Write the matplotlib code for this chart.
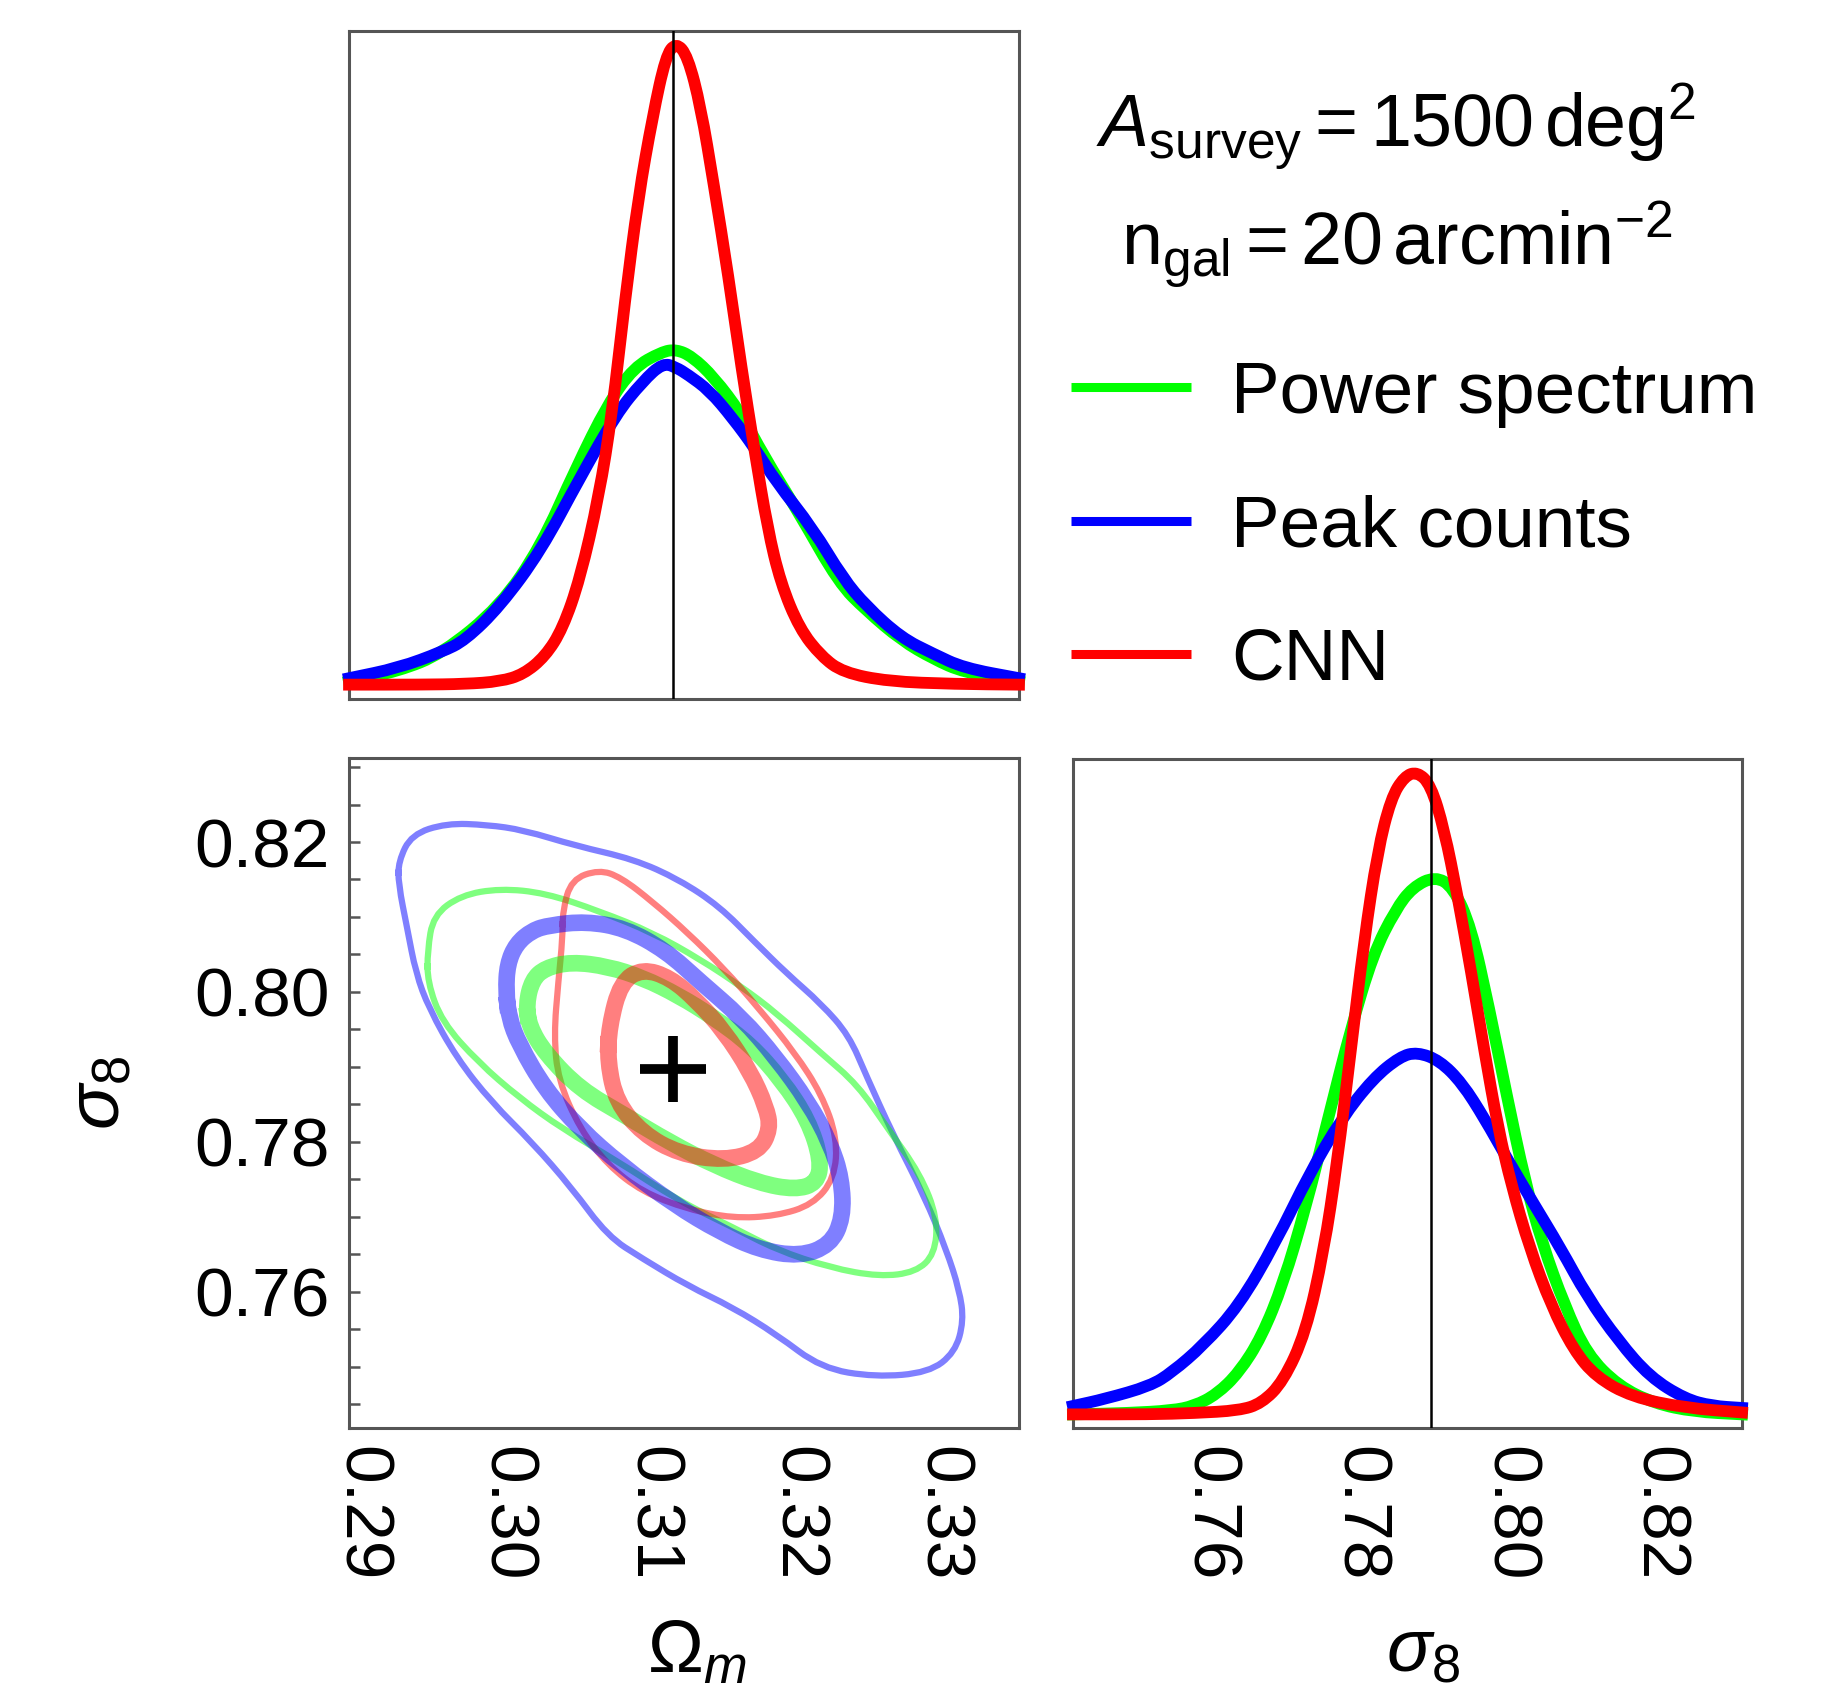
import matplotlib
matplotlib.use("Agg")
import matplotlib.pyplot as plt
import numpy as np
from matplotlib.lines import Line2D
from matplotlib.path import Path
from matplotlib.patches import PathPatch

plt.rcParams['font.family'] = ['Liberation Sans', 'DejaVu Sans']
plt.rcParams['mathtext.fontset'] = 'custom'
plt.rcParams['mathtext.rm'] = 'Liberation Sans'
plt.rcParams['mathtext.it'] = 'Liberation Sans:italic'
plt.rcParams['mathtext.bf'] = 'Liberation Sans:bold'

# fiducial cosmology
om_fid = 0.3115
s8_fid = 0.7897

om_lim = (0.2892, 0.3353)
s8_lim = (0.7418, 0.8312)
pdf_lim = (-0.0202, 1.0177)

labels = ['Power spectrum', 'Peak counts', 'CNN']
colors = ['#00ff00', '#0000ff', '#ff0000']

om_ticks = [0.29, 0.30, 0.31, 0.32, 0.33]
om_ticklabels = ['0.29', '0.30', '0.31', '0.32', '0.33']
s8_ticks = [0.76, 0.78, 0.80, 0.82]
s8_ticklabels = ['0.76', '0.78', '0.80', '0.82']

# marginal posterior of Omega_m (CNN peak = 1)
om_ps = [0.2892, 0.2926, 0.2956, 0.2996, 0.3024, 0.3048, 0.3070, 0.3088, 0.3107, 0.3117, 0.3128,
         0.3143, 0.3162, 0.3177, 0.3202, 0.3229, 0.3248, 0.3272, 0.3294, 0.3315, 0.3353]
p_om_ps = [0.007, 0.023, 0.050, 0.124, 0.217, 0.338, 0.438, 0.495, 0.519, 0.523, 0.512,
           0.480, 0.423, 0.359, 0.267, 0.160, 0.117, 0.071, 0.042, 0.021, 0.007]
om_pk = [0.2892, 0.2926, 0.2956, 0.2972, 0.2996, 0.3024, 0.3051, 0.3076, 0.3094, 0.3108, 0.3117, 0.3125,
         0.3140, 0.3156, 0.3171, 0.3186, 0.3211, 0.3232, 0.3248, 0.3272, 0.3294, 0.3315, 0.3353]
p_om_pk = [0.012, 0.028, 0.053, 0.071, 0.124, 0.210, 0.324, 0.423, 0.473, 0.502, 0.495, 0.484,
           0.459, 0.416, 0.370, 0.317, 0.245, 0.167, 0.124, 0.075, 0.050, 0.028, 0.012]
om_cnn = [0.2892, 0.2941, 0.2972, 0.2996, 0.3012, 0.3027, 0.3039, 0.3051, 0.3064, 0.3073, 0.3082,
          0.3091, 0.3101, 0.3110, 0.3117, 0.3125, 0.3134, 0.3143, 0.3153, 0.3162, 0.3171, 0.3180,
          0.3189, 0.3202, 0.3217, 0.3232, 0.3263, 0.3309, 0.3353]
p_om_cnn = [0.002, 0.002, 0.003, 0.007, 0.018, 0.046, 0.089, 0.167, 0.295, 0.423, 0.601,
            0.758, 0.886, 0.979, 1.000, 0.979, 0.900, 0.779, 0.637, 0.495, 0.366, 0.245,
            0.160, 0.089, 0.046, 0.021, 0.007, 0.003, 0.002]

# marginal posterior of sigma_8
s8_ps = [0.7418, 0.7491, 0.7550, 0.7580, 0.7610, 0.7640, 0.7670, 0.7699, 0.7729, 0.7759, 0.7789,
         0.7819, 0.7849, 0.7872, 0.7902, 0.7926, 0.7950, 0.7974, 0.7998, 0.8022, 0.8045, 0.8075,
         0.8105, 0.8147, 0.8195, 0.8248, 0.8312]
p_s8_ps = [0.001, 0.003, 0.007, 0.014, 0.032, 0.066, 0.121, 0.204, 0.322, 0.460, 0.598,
           0.715, 0.784, 0.819, 0.836, 0.819, 0.757, 0.632, 0.494, 0.363, 0.266, 0.170,
           0.094, 0.045, 0.018, 0.005, 0.001]
s8_pk = [0.7418, 0.7461, 0.7521, 0.7550, 0.7592, 0.7640, 0.7688, 0.7735, 0.7777, 0.7819, 0.7855, 0.7878,
         0.7908, 0.7938, 0.7968, 0.7998, 0.8033, 0.8069, 0.8105, 0.8147, 0.8189, 0.8236, 0.8272, 0.8312]
p_s8_pk = [0.014, 0.025, 0.045, 0.066, 0.108, 0.170, 0.266, 0.377, 0.460, 0.522, 0.556, 0.563,
           0.550, 0.515, 0.460, 0.398, 0.329, 0.260, 0.184, 0.115, 0.059, 0.025, 0.014, 0.011]
s8_cnn = [0.7418, 0.7521, 0.7580, 0.7640, 0.7670, 0.7699, 0.7729, 0.7753, 0.7771, 0.7789, 0.7807,
          0.7825, 0.7843, 0.7861, 0.7878, 0.7896, 0.7914, 0.7932, 0.7950, 0.7968, 0.7986, 0.8004,
          0.8028, 0.8057, 0.8087, 0.8117, 0.8165, 0.8236, 0.8312]
p_s8_cnn = [0.001, 0.001, 0.003, 0.007, 0.018, 0.052, 0.128, 0.253, 0.391, 0.563, 0.736,
            0.874, 0.957, 0.991, 0.998, 0.978, 0.909, 0.805, 0.688, 0.563, 0.446, 0.356,
            0.260, 0.170, 0.101, 0.059, 0.028, 0.011, 0.004]

# 2D contours (inner = thick, outer = thin)
ps_in_om = [0.3014, 0.3018, 0.3027, 0.3045, 0.3070, 0.3094, 0.3119, 0.3143, 0.3168, 0.3190, 0.3208,
            0.3217, 0.3214, 0.3199, 0.3174, 0.3143, 0.3113, 0.3082, 0.3051, 0.3027, 0.3016]
ps_in_s8 = [0.7984, 0.8016, 0.8032, 0.8040, 0.8034, 0.8019, 0.7995, 0.7966, 0.7930, 0.7882, 0.7829,
            0.7775, 0.7745, 0.7736, 0.7745, 0.7769, 0.7799, 0.7835, 0.7870, 0.7918, 0.7954]
ps_out_om = [0.2946, 0.2950, 0.2969, 0.2996, 0.3027, 0.3064, 0.3101, 0.3134, 0.3162, 0.3186,
             0.3217, 0.3242, 0.3263, 0.3285, 0.3297, 0.3295, 0.3282, 0.3257, 0.3223, 0.3186,
             0.3156, 0.3119, 0.3076, 0.3039, 0.3009, 0.2981, 0.2956, 0.2946]
ps_out_s8 = [0.8055, 0.8102, 0.8129, 0.8138, 0.8132, 0.8108, 0.8079, 0.8043, 0.8007, 0.7972,
             0.7918, 0.7876, 0.7817, 0.7757, 0.7698, 0.7650, 0.7626, 0.7620, 0.7632, 0.7656,
             0.7686, 0.7721, 0.7775, 0.7817, 0.7859, 0.7906, 0.7960, 0.8013]
pk_in_om = [0.3000, 0.3001, 0.3007, 0.3018, 0.3030, 0.3055, 0.3082, 0.3110, 0.3134, 0.3162, 0.3186,
            0.3208, 0.3223, 0.3231, 0.3232, 0.3223, 0.3202, 0.3174, 0.3147, 0.3116, 0.3079, 0.3051,
            0.3027, 0.3009, 0.3002]
pk_in_s8 = [0.8001, 0.8037, 0.8064, 0.8082, 0.8089, 0.8094, 0.8085, 0.8055, 0.8013, 0.7966, 0.7912,
            0.7853, 0.7799, 0.7751, 0.7698, 0.7662, 0.7647, 0.7656, 0.7680, 0.7716, 0.7769, 0.7817,
            0.7870, 0.7930, 0.7966]
pk_out_om = [0.2926, 0.2935, 0.2959, 0.2987, 0.3012, 0.3048, 0.3088, 0.3119, 0.3147, 0.3171, 0.3193,
             0.3217, 0.3236, 0.3248, 0.3266, 0.3288, 0.3303, 0.3312, 0.3315, 0.3309, 0.3291, 0.3254,
             0.3217, 0.3186, 0.3156, 0.3125, 0.3094, 0.3070, 0.3045, 0.3018, 0.2990, 0.2966, 0.2947,
             0.2938, 0.2932, 0.2926]
pk_out_s8 = [0.8174, 0.8210, 0.8225, 0.8223, 0.8216, 0.8195, 0.8177, 0.8150, 0.8114, 0.8067, 0.8025,
             0.7984, 0.7942, 0.7888, 0.7811, 0.7727, 0.7656, 0.7602, 0.7561, 0.7519, 0.7492, 0.7486,
             0.7498, 0.7543, 0.7579, 0.7608, 0.7644, 0.7674, 0.7739, 0.7799, 0.7853, 0.7912, 0.7978,
             0.8025, 0.8085, 0.8144]
cnn_in_om = [0.3071, 0.3079, 0.3094, 0.3113, 0.3131, 0.3150, 0.3168, 0.3179, 0.3182, 0.3174,
             0.3150, 0.3119, 0.3094, 0.3076, 0.3070]
cnn_in_s8 = [0.7954, 0.8013, 0.8031, 0.8019, 0.7989, 0.7948, 0.7894, 0.7847, 0.7817, 0.7787,
             0.7775, 0.7784, 0.7811, 0.7853, 0.7906]
cnn_out_om = [0.3039, 0.3045, 0.3064, 0.3079, 0.3101, 0.3125, 0.3150, 0.3174, 0.3199, 0.3217, 0.3228,
              0.3226, 0.3211, 0.3186, 0.3156, 0.3125, 0.3094, 0.3070, 0.3051, 0.3036, 0.3033, 0.3036, 0.3039]
cnn_out_s8 = [0.8108, 0.8150, 0.8163, 0.8153, 0.8120, 0.8079, 0.8031, 0.7978, 0.7918, 0.7864, 0.7805,
              0.7751, 0.7716, 0.7701, 0.7698, 0.7710, 0.7733, 0.7769, 0.7817, 0.7882, 0.7942, 0.8013, 0.8073]

SPINE = '#555555'
CURVE_LW = 8.5
THICK_LW = 12
THIN_LW = 4.5
FS = 50


def style_axes(ax):
    for s in ax.spines.values():
        s.set_color(SPINE)
        s.set_linewidth(2.2)


def smooth_path(x, y, closed=False):
    # quadratic bezier path using the read points as control points
    pts = np.column_stack([x, y])
    if closed:
        mids = (pts + np.roll(pts, -1, axis=0)) / 2
        verts = [mids[-1]]
        codes = [Path.MOVETO]
        for i in range(len(pts)):
            verts += [pts[i], mids[i]]
            codes += [Path.CURVE3, Path.CURVE3]
    else:
        mids = (pts[:-1] + pts[1:]) / 2
        verts = [pts[0], mids[0]]
        codes = [Path.MOVETO, Path.LINETO]
        for i in range(1, len(pts) - 1):
            verts += [pts[i], mids[i]]
            codes += [Path.CURVE3, Path.CURVE3]
        verts.append(pts[-1])
        codes.append(Path.LINETO)
    return Path(verts, codes)


def draw_curve(ax, x, y, color, lw, alpha=1.0, closed=False, clip=True):
    patch = PathPatch(smooth_path(x, y, closed), fill=False, edgecolor=color, lw=lw,
                      alpha=alpha, capstyle='projecting', joinstyle='round', zorder=3)
    patch.set_clip_on(clip)
    ax.add_patch(patch)


fig = plt.figure(figsize=(18.36, 16.85), dpi=100)
ax_top = fig.add_axes([0.1901, 0.5852, 0.3649, 0.3964])
ax_2d = fig.add_axes([0.1901, 0.1525, 0.3649, 0.3976])
ax_right = fig.add_axes([0.5844, 0.1525, 0.3644, 0.3970])

# top marginal
for x, y, c in [(om_ps, p_om_ps, colors[0]), (om_pk, p_om_pk, colors[1]), (om_cnn, p_om_cnn, colors[2])]:
    draw_curve(ax_top, x, y, c, CURVE_LW, clip=False)
ax_top.axvline(om_fid, color='black', lw=1.8, zorder=4)
ax_top.set_xlim(om_lim)
ax_top.set_ylim(pdf_lim)
ax_top.set_xticks([])
ax_top.set_yticks([])
style_axes(ax_top)

# right marginal
for x, y, c in [(s8_ps, p_s8_ps, colors[0]), (s8_pk, p_s8_pk, colors[1]), (s8_cnn, p_s8_cnn, colors[2])]:
    draw_curve(ax_right, x, y, c, CURVE_LW, clip=False)
ax_right.axvline(s8_fid, color='black', lw=1.8, zorder=4)
ax_right.set_xlim(s8_lim)
ax_right.set_ylim(pdf_lim)
ax_right.set_yticks([])
ax_right.set_xticks(s8_ticks)
ax_right.set_xticklabels(s8_ticklabels, rotation=270, fontsize=FS)
ax_right.tick_params(axis='x', length=0, pad=13)
style_axes(ax_right)

# 2D contours
contours = [
    (pk_out_om, pk_out_s8, colors[1], THIN_LW),
    (ps_out_om, ps_out_s8, colors[0], THIN_LW),
    (cnn_out_om, cnn_out_s8, colors[2], THIN_LW),
    (ps_in_om, ps_in_s8, colors[0], THICK_LW),
    (pk_in_om, pk_in_s8, colors[1], THICK_LW),
    (cnn_in_om, cnn_in_s8, colors[2], THICK_LW),
]
for om, s8, c, lw in contours:
    draw_curve(ax_2d, om, s8, c, lw, alpha=0.5, closed=True)
ax_2d.plot([om_fid], [s8_fid], marker='+', color='black', markersize=47, mew=7, zorder=5)
ax_2d.set_xlim(om_lim)
ax_2d.set_ylim(s8_lim)
ax_2d.set_xticks(om_ticks)
ax_2d.set_xticklabels(om_ticklabels, rotation=270, fontsize=FS)
ax_2d.tick_params(axis='x', length=0, pad=13)
ax_2d.set_yticks(s8_ticks)
ax_2d.set_yticklabels(s8_ticklabels, fontsize=FS)
ax_2d.set_yticks(np.arange(0.745, 0.8301, 0.005), minor=True)
ax_2d.tick_params(axis='y', which='both', direction='in', length=8, width=1.8,
                  color=SPINE, pad=13.7)
style_axes(ax_2d)

# axis labels
fig.text(0.3796, 0.0077, r'$\Omega_m$', fontsize=54, ha='center', va='baseline')
fig.text(0.7751, 0.0077, r'$\sigma_8$', fontsize=54, ha='center', va='baseline')
fig.text(0.0545, 0.3513, r'$\sigma_8$', fontsize=54, ha='center', va='center', rotation=90)

# survey annotation
fig.text(0.7603, 0.9122, r'$A_{\mathrm{survey}} = 1500\,\mathrm{deg}^2$', fontsize=53,
         ha='center', va='baseline')
fig.text(0.7609, 0.8421, r'$\mathrm{n}_{\mathrm{gal}} = 20\,\mathrm{arcmin}^{-2}$', fontsize=53,
         ha='center', va='baseline')

handles = [Line2D([], [], color=c, lw=6.5, solid_capstyle='butt') for c in colors]
fig.legend(handles, labels, loc='upper left', bbox_to_anchor=(0.5833, 0.7858), frameon=False,
           fontsize=52.5, handlelength=1.65, handletextpad=0.55, labelspacing=0.91,
           borderpad=0, borderaxespad=0)

fig.savefig('out.png', dpi=100)
